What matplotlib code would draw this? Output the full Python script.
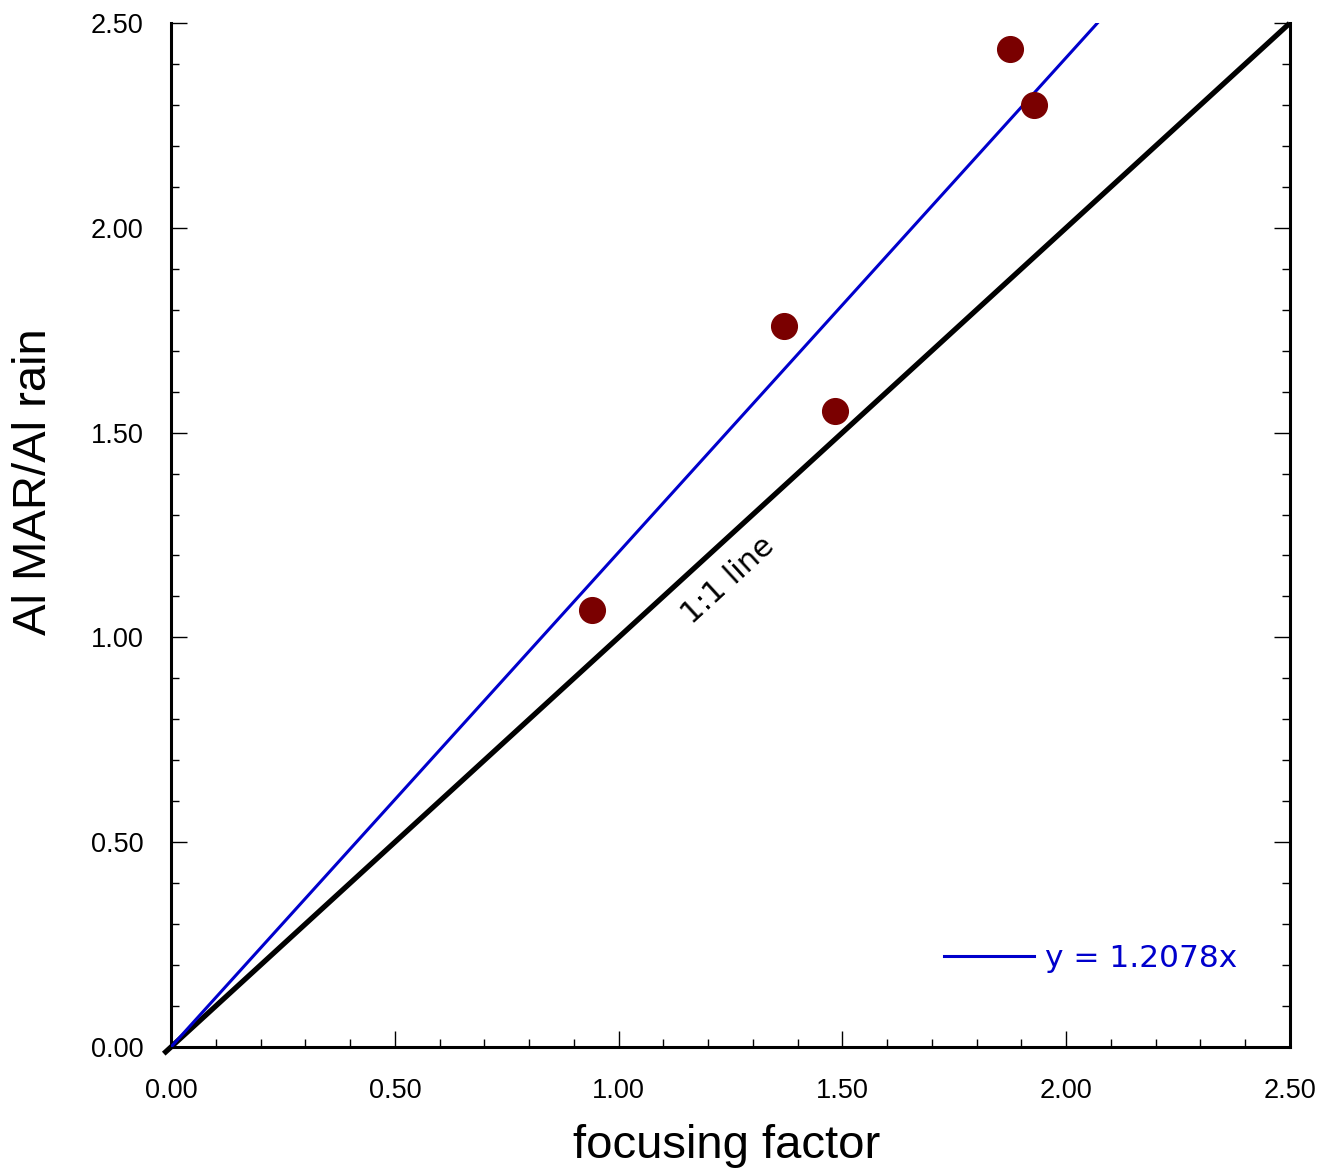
import matplotlib
matplotlib.use("Agg")
import matplotlib.pyplot as plt
import numpy as np
from matplotlib.ticker import MultipleLocator, FormatStrFormatter

# focusing factor vs Al MAR / Al rain
focusing = [0.94, 1.37, 1.483, 1.874, 1.928]
al_ratio = [1.067, 1.760, 1.553, 2.437, 2.300]
slope = 1.2078

fig = plt.figure(figsize=(13.23, 11.69), dpi=100)
ax = fig.add_axes([0.1293, 0.1044, 0.8457, 0.8759])

# 1:1 line
one = np.array([-0.012, 2.495])
ax.plot(one, one, color="black", lw=3.8, clip_on=False, zorder=2)

# regression through origin
xfit = np.array([0.0, 2.5])
ax.plot(xfit, slope * xfit, color="#0000cc", lw=2.2, zorder=3,
        label="y = %.4fx" % slope)

ax.plot(focusing, al_ratio, "o", color="#7a0000", ms=18.5, mec="#7a0000", zorder=4)

ax.set_xlim(0, 2.5)
ax.set_ylim(0, 2.5)

ax.spines["top"].set_visible(False)
for s in ["left", "bottom", "right"]:
    ax.spines[s].set_linewidth(2.2)

ax.xaxis.set_major_locator(MultipleLocator(0.5))
ax.xaxis.set_minor_locator(MultipleLocator(0.1))
ax.yaxis.set_major_locator(MultipleLocator(0.5))
ax.yaxis.set_minor_locator(MultipleLocator(0.1))
ax.xaxis.set_major_formatter(FormatStrFormatter("%.2f"))
ax.yaxis.set_major_formatter(FormatStrFormatter("%.2f"))
ax.tick_params(which="both", direction="in", right=True, top=False, width=1.0)
ax.tick_params(which="major", length=11.5, labelsize=19.5)
ax.tick_params(which="minor", length=6)
ax.tick_params(axis="x", which="major", pad=22)
ax.tick_params(axis="y", which="major", pad=20)
for lab in ax.get_xticklabels() + ax.get_yticklabels():
    lab.set_family("Liberation Sans")

ax.text(1.245, 1.14, "1:1 line", rotation=42.5, fontsize=22, family="DejaVu Sans",
        ha="center", va="center", rotation_mode="anchor")

leg = ax.legend(loc="center right", bbox_to_anchor=(0.967, 0.086), frameon=False,
                borderpad=0, handlelength=2.9, handletextpad=0.35,
                prop={"family": "DejaVu Sans", "size": 22.5})
for t in leg.get_texts():
    t.set_color("#0000cc")

fig.text(0.549, 0.020, "focusing factor", fontsize=34, family="Liberation Sans",
         ha="center", va="center")
fig.text(0.026, 0.588, "Al MAR/Al rain", fontsize=34, family="Liberation Sans",
         ha="center", va="center", rotation=90)

fig.savefig("out.png", dpi=100)
